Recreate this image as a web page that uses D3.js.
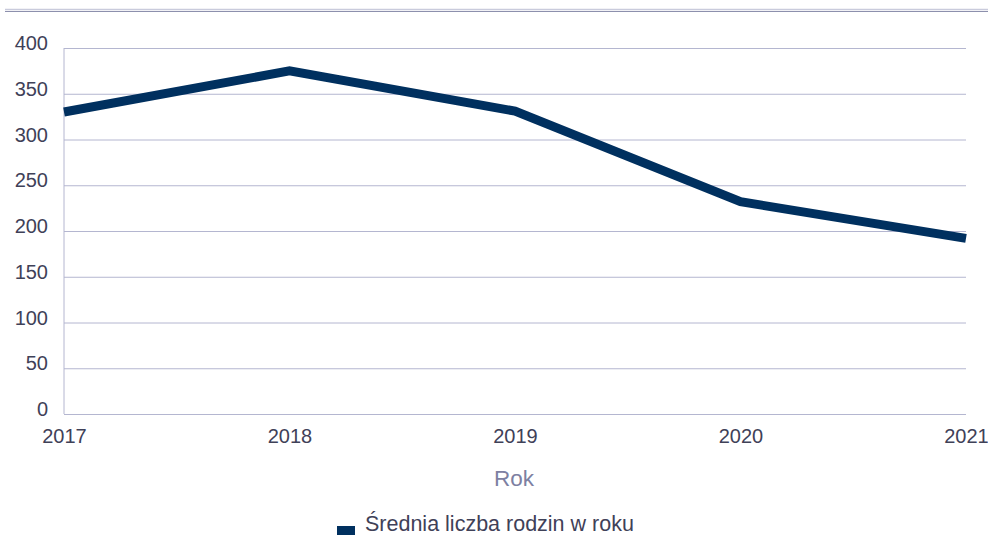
<!DOCTYPE html>
<html>
<head>
<meta charset="utf-8">
<script src="https://cdn.jsdelivr.net/npm/d3@7/dist/d3.min.js"></script>
<style>
  html, body { margin: 0; padding: 0; background: #fff; }
  svg { display: block; font-family: "Liberation Sans", Arial, sans-serif; }
</style>
</head>
<body>
<svg id="chart" width="988" height="535"></svg>
<script>
// Average number of families per year
const years = ["2017", "2018", "2019", "2020", "2021"];
const values = [330, 375, 331, 232, 192];
const yTicks = [0, 50, 100, 150, 200, 250, 300, 350, 400];
const seriesName = "Średnia liczba rodzin w roku";
const axisTitle = "Rok";

const svg = d3.select("#chart");
const margin = { left: 64, right: 22, top: 48, bottom: 121 };
const W = 988, H = 535;

const x = d3.scalePoint().domain(years).range([margin.left, W - margin.right]);
const y = d3.scaleLinear().domain([0, 400]).range([H - margin.bottom, margin.top]);

// header rule
svg.append("line").attr("x1", 5).attr("x2", W).attr("y1", 9.5).attr("y2", 9.5)
  .attr("stroke", "#c9cbdc").attr("stroke-width", 1.5);
svg.append("line").attr("x1", 5).attr("x2", W).attr("y1", 11.5).attr("y2", 11.5)
  .attr("stroke", "#8d90ad").attr("stroke-width", 1.2);

// horizontal grid + y labels
const yAxis = d3.axisLeft(y).tickValues(yTicks).tickSize(-(W - margin.left - margin.right)).tickPadding(16);
const gy = svg.append("g").attr("transform", `translate(${margin.left},0)`).call(yAxis);
gy.select(".domain").remove();
gy.selectAll(".tick line").attr("stroke", "#b4b6d0").attr("stroke-width", 1);
gy.selectAll(".tick text").attr("fill", "#3f4158").attr("font-size", 20)
  .attr("dy", "0.08em");

// left axis line
svg.append("line").attr("x1", margin.left).attr("x2", margin.left)
  .attr("y1", y(400)).attr("y2", y(0)).attr("stroke", "#b4b6d0").attr("stroke-width", 1);

// x labels
const xAxis = d3.axisBottom(x).tickSize(0).tickPadding(15);
const gx = svg.append("g").attr("transform", `translate(0,${y(0)})`).call(xAxis);
gx.select(".domain").remove();
gx.selectAll(".tick text").attr("fill", "#3f4158").attr("font-size", 20);

// axis title
svg.append("text").attr("x", 514).attr("y", 486)
  .attr("text-anchor", "middle").attr("fill", "#7d80a2").attr("font-size", 22.5)
  .text(axisTitle);

// series line
const line = d3.line().x((d, i) => x(years[i])).y(d => y(d));
svg.append("path").datum(values).attr("d", line)
  .attr("fill", "none").attr("stroke", "#00305f").attr("stroke-width", 9)
  .attr("stroke-linejoin", "miter").attr("stroke-linecap", "butt");

// legend
const lg = svg.append("g").attr("transform", "translate(337,526)");
lg.append("rect").attr("x", 0).attr("y", 0).attr("width", 18).attr("height", 9).attr("fill", "#00305f");
lg.append("text").attr("x", 28).attr("y", 5).attr("fill", "#3f4158").attr("font-size", 21.5)
  .text(seriesName);
</script>
</body>
</html>
